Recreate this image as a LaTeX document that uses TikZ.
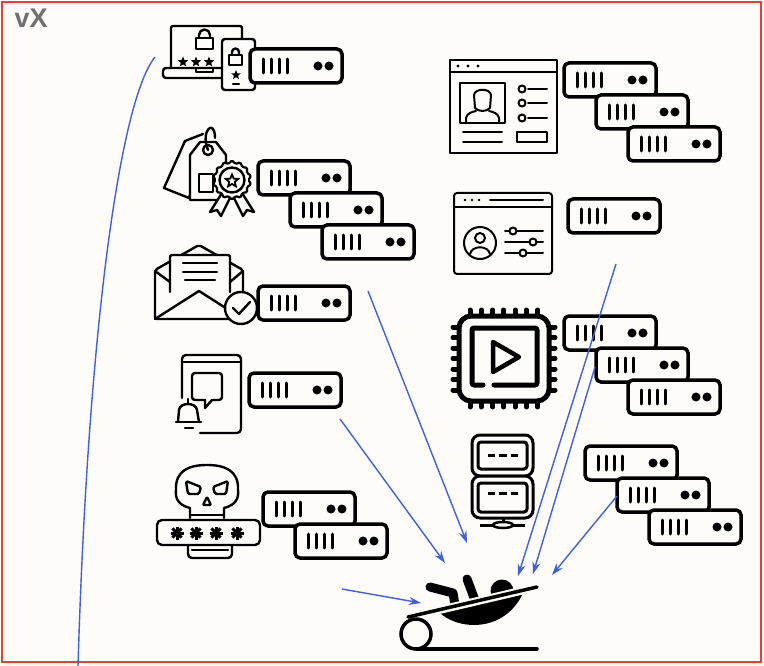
\documentclass[tikz,border=0pt]{standalone}
\usepackage{fontspec}
\newfontfamily\labelfont{Liberation Sans}
\usetikzlibrary{arrows.meta,shapes.geometric}

\definecolor{paper}{RGB}{253,252,248}
\definecolor{frame}{RGB}{230,64,52}
\definecolor{link}{RGB}{64,96,224}
\definecolor{tag}{RGB}{112,112,112}

\tikzset{
  rackunit/.pic={
    \draw[line width=3.5pt, rounded corners=5pt, fill=paper] (0,0) rectangle (92,34);
    \foreach \i in {0,...,3}
      \draw[line width=3pt, line cap=round] (13+\i*8,10) -- (13+\i*8,24);
    \fill (68,17) circle (4.5pt) (79,17) circle (4.5pt);
  },
  icon/.style={line width=2.4pt, line join=round, line cap=round},
  chipline/.style={line width=5pt, line join=round, line cap=round},
  flow/.style={draw=link, line width=1.4pt, -{Stealth[length=12pt,width=8pt]}},
}

\begin{document}
\begin{tikzpicture}[x=1pt, y=-1pt]
    \useasboundingbox (0,0) rectangle (764,666);
    \fill[paper] (0,0) rectangle (764,666);
    \draw[frame, line width=2pt] (2,2) rectangle (761,662);
    \node[anchor=base west, inner sep=0, text=tag,
          font=\labelfont\bfseries\fontsize{27}{27}\selectfont] (version) at (14.5,28) {vX};

    % Laptop with password
    \draw[icon, rounded corners=2pt] (171,68) -- (171,26) -- (242,26) -- (242,68);
    \draw[icon, rounded corners=3pt] (163,68) -- (163,78) -- (242,78) -- (242,68) -- cycle;
    \draw[icon] (196,68) -- (196,72) -- (213,72) -- (213,68);
    \draw[icon] (196,38) rectangle (213,49);
    \draw[icon] (199,38) -- (199,35) arc (180:0:5.5pt) -- (210,38);
    \foreach \x [count=\i] in {183,196,209}
        \node[star, star points=5, star point ratio=2.3, fill, inner sep=0, minimum size=11pt] (key\i) at (\x,62) {};
    \draw[icon, rounded corners=3pt, fill=paper] (222,39) rectangle (255,90);
    \draw[icon] (229,55) rectangle (242,65);
    \draw[icon] (232,55) -- (232,52) arc (180:0:3.5pt) -- (239,55);
    \node[star, star points=5, star point ratio=2.3, fill, inner sep=0, minimum size=10pt] (pinkey) at (236,75) {};
    \draw[icon] (233,84) -- (239,84);
    \pic at (250,49) {rackunit};

    % Price tags with badge
    \draw[icon, fill=paper] (203,134) -- (185,141) -- (164,188) -- (189,198) -- (195,180);
    \draw[icon, fill=paper] (190,200) -- (190,155) -- (200,142) -- (216,142) -- (226,155) -- (226,200) -- cycle;
    \draw[icon] (208,150) circle (5pt);
    \draw[icon] (208,150) .. controls (200,130) and (215,118) .. (215,138);
    \draw[icon] (199,174) rectangle (213,192);
    \draw[icon, fill=paper] (222,193) -- (210,212) -- (217,210) -- (221,216) -- (230,198);
    \draw[icon, fill=paper] (242,193) -- (254,212) -- (247,210) -- (243,216) -- (234,198);
    \node[draw, star, star points=14, star point ratio=1.18, rounded corners=1.2pt, minimum size=39pt,
          inner sep=0, line width=2.2pt, fill=paper] (badge) at (232,180) {};
    \draw[icon] (badge.center) circle (12.5pt);
    \node[draw, star, star points=5, star point ratio=2.2, minimum size=13pt, inner sep=0,
          line width=1.8pt] (badgestar) at (232,181) {};
    \foreach \k in {0,1,2}
        \pic at ({258+32*\k},{161+32*\k}) {rackunit};

    % Mail with check
    \draw[icon, fill=paper, rounded corners=2pt] (155,270) -- (155,319) -- (243,319) -- (243,270) -- (199,245) -- cycle;
    \draw[icon, fill=paper, rounded corners=2pt] (170,292) -- (170,255) -- (230,255) -- (230,292);
    \draw[icon] (183,263) -- (217,263) (183,272) -- (217,272) (185,280) -- (215,280);
    \draw[icon] (155,319) -- (199,291) -- (243,319);
    \draw[icon] (155,271) -- (170,282) (243,271) -- (230,282);
    \draw[icon, fill=paper] (241,308) circle (16pt);
    \draw[icon] (233,308) -- (239,314) -- (250,302);
    \pic at (258,286) {rackunit};

    % Phone with chat and bell
    \draw[icon, rounded corners=4pt] (182,398) -- (182,355) -- (241,355) -- (241,433) -- (200,433);
    \draw[icon] (182,362) -- (241,362);
    \draw[icon, rounded corners=3pt] (205,400) -- (192,400) -- (192,373) -- (222,373) -- (222,400) -- (212,400);
    \draw[icon] (205,400) -- (205,408) -- (212,400);
    \draw[icon, fill=paper] (178,422) -- (179,410) .. controls (180,402) and (196,402) .. (197,410) -- (199,422);
    \draw[icon] (188,403) -- (188,399);
    \draw[icon] (176,422) -- (201,422);
    \draw[icon] (185,428) -- (193,428);
    \pic at (249,373) {rackunit};

    % Skull with password
    \draw[icon, fill=paper] (190,518) -- (190,508) .. controls (178,505) and (175,498) .. (176,490)
        .. controls (175,470) and (190,465) .. (207,465) .. controls (224,465) and (239,470) .. (238,490)
        .. controls (239,498) and (236,505) .. (224,508) -- (224,518);
    \draw[icon, rounded corners=1.5pt] (186,481) -- (201,487) -- (199,494) -- (188,494) -- cycle;
    \draw[icon, rounded corners=1.5pt] (228,481) -- (213,487) -- (215,494) -- (226,494) -- cycle;
    \draw[icon, rounded corners=1pt] (203,505) -- (207,497) -- (211,505) -- cycle;
    \draw[icon] (190,515) -- (224,515);
    \draw[icon, rounded corners=4pt, fill=paper] (188,541) rectangle (232,558);
    \draw[icon] (192,550) -- (228,550);
    \draw[icon, rounded corners=5pt, fill=paper] (157,520) rectangle (260,545);
    \foreach \x in {177,196,216,237}
        \foreach \a in {0,45,90,135}
            \draw[line width=3pt] (\x,533) ++(\a:6.5pt) -- ++(\a+180:13pt);
    \pic at (263,492) {rackunit};
    \pic at (295,524) {rackunit};

    % Profile page
    \draw[icon, line width=2pt] (450,60) rectangle (557,153);
    \draw[icon, line width=2pt] (450,72) -- (557,72);
    \foreach \x in {458,468,478}
        \fill (\x,66) circle (1.6pt);
    \draw[icon, line width=2pt] (460,83) rectangle (505,123);
    \draw[icon, line width=2pt] (475,108) -- (474,95) .. controls (475,88) and (490,88) .. (491,95) -- (490,108)
        .. controls (486,112) and (479,112) .. (475,108);
    \draw[icon, line width=2pt] (466,123) -- (466,118) .. controls (467,113) and (472,112) .. (476,111)
        (489,111) .. controls (493,112) and (498,113) .. (499,118) -- (499,123);
    \foreach \y in {89,103,118} {
        \draw[icon, line width=2pt] (522,\y) circle (3.5pt);
        \draw[icon, line width=2pt] (528,\y) -- (547,\y);
    }
    \draw[icon, line width=2pt] (463,132) -- (502,132) (463,142) -- (502,142);
    \draw[icon, line width=2pt] (517,132) rectangle (547,142);
    \foreach \k in {0,1,2}
        \pic at ({564+32*\k},{63+32*\k}) {rackunit};

    % Account settings page
    \draw[icon, line width=2pt, rounded corners=3pt] (454,193) rectangle (552,274);
    \draw[icon, line width=2pt] (454,207) -- (552,207);
    \foreach \x in {465,472,479}
        \fill (\x,200) circle (1.3pt);
    \draw[icon, line width=2pt] (490,200) -- (543,200);
    \draw[icon, line width=2pt] (480,243) circle (16pt);
    \draw[icon, line width=2pt] (480,238) circle (5pt);
    \draw[icon, line width=2pt] (470,254) .. controls (472,245) and (488,245) .. (490,254);
    \foreach \y/\x in {231/513,242/533,253/523} {
        \draw[icon, line width=2pt] (505,\y) -- (543,\y);
        \draw[icon, line width=2pt, fill=paper] (\x,\y) circle (3.5pt);
    }
    \pic at (568,199) {rackunit};

    % Media chip
    \foreach \i in {0,...,6} {
        \draw[chipline] ({470+11.3*\i},316) -- ({470+11.3*\i},310);
        \draw[chipline] ({470+11.3*\i},401) -- ({470+11.3*\i},407);
        \draw[chipline] (459,{327+10.5*\i}) -- (453,{327+10.5*\i});
        \draw[chipline] (549,{327+10.5*\i}) -- (555,{327+10.5*\i});
    }
    \draw[chipline, rounded corners=12pt, fill=paper] (459,316) rectangle (549,401);
    \draw[chipline, rounded corners=2pt] (483,385) -- (472,385) -- (472,328) -- (537,328) -- (537,385) -- (494,385);
    \draw[line width=4.5pt, line join=round] (493,342) -- (519,357) -- (493,372) -- cycle;
    \foreach \k in {0,1,2}
        \pic at ({564+32*\k},{316+32*\k}) {rackunit};

    % Server pair
    \draw[line width=3pt, rounded corners=8pt, fill=paper] (472,435) rectangle (533,476);
    \draw[line width=3pt, rounded corners=3pt] (478,442) rectangle (527,469);
    \draw[line width=3pt, rounded corners=8pt, fill=paper] (472,476) rectangle (533,518);
    \draw[line width=3pt, rounded corners=3pt] (478,483) rectangle (527,512);
    \foreach \y in {455,493}
        \draw[line width=3pt] (488,\y) -- (495,\y) (499,\y) -- (507,\y) (511,\y) -- (518,\y);
    \draw[line width=3pt] (503,518) -- (503,525) (480,525) -- (525,525);
    \draw[line width=2.5pt, fill=paper] (503,525) ellipse (10pt and 3pt);

    \foreach \k in {0,1,2}
        \pic at ({585+32*\k},{446+32*\k}) {rackunit};

    % Person sliding down the chute
    \fill (438,611) .. controls (455,630) and (505,635) .. (524,591) -- cycle;
    \fill (502,591) circle (11.5pt);
    \draw[line width=9pt, line cap=round, line join=round] (430,587) -- (453,593) -- (455,605);
    \draw[line width=9pt, line cap=round] (467,579) -- (476,603);
    \draw[paper, line width=8pt] (405,618) -- (542,586);
    \draw[line width=3.5pt, line cap=round] (408,617) -- (537,587);
    \draw[line width=3.5pt, fill=paper] (416,634) circle (15pt);
    \draw[line width=3.5pt, line cap=round] (416,649) -- (537,649);

    % Flows into the chute
    \coordinate (mailout) at (368,291);
    \coordinate (phoneout) at (340,419);
    \coordinate (settingsout) at (616,264);
    \coordinate (chipout) at (595,367);
    \coordinate (rackout) at (617,496);
    \coordinate (sideout) at (342,589);
    \coordinate (intoA) at (467,543);
    \coordinate (intoB) at (445,563);
    \coordinate (intoC) at (518,576);
    \coordinate (intoD) at (533,574);
    \coordinate (intoE) at (552,575);
    \coordinate (intoF) at (421,603);
    \draw[flow] (mailout) -- (intoA);
    \draw[flow] (phoneout) -- (intoB);
    \draw[flow] (settingsout) -- (intoC);
    \draw[flow] (chipout) -- (intoD);
    \draw[flow] (rackout) -- (intoE);
    \draw[flow] (sideout) -- (intoF);

    % Long lead from the laptop
    \coordinate (leadtop) at (155,57);
    \coordinate (leadend) at (78,666);
    \draw[link, line width=1.4pt] (leadtop) .. controls (120,100) and (88,330) .. (leadend);
\end{tikzpicture}
\end{document}
